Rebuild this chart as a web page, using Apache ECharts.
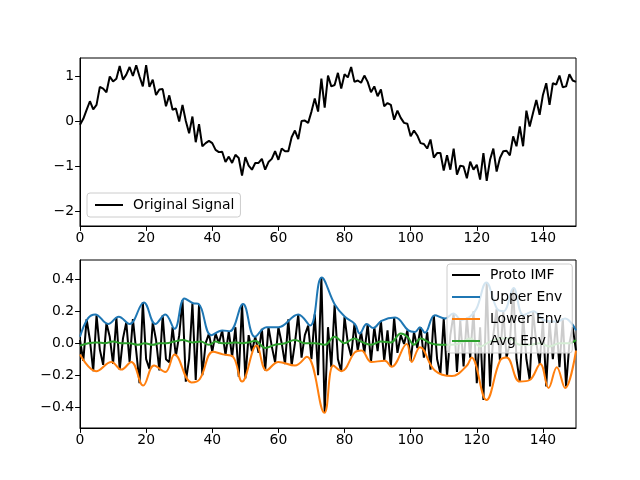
<!DOCTYPE html>
<html><head><meta charset="utf-8">
<script src="https://cdn.jsdelivr.net/npm/echarts@6/dist/echarts.min.js"></script>
<style>html,body{margin:0;padding:0;background:#fff}#c{width:640px;height:480px}</style>
</head><body><div id="c"></div>
<script>
const xTicks = [0,20,40,60,80,100,120,140];
const topYTicks = [-2,-1,0,1];
const botYTicks = [-0.4,-0.2,0,0.2,0.4];
const signal = [-0.08,0.05,0.25,0.44,0.26,0.36,0.76,0.72,0.64,0.99,0.88,0.94,1.22,0.92,1.03,1.2,1.0,1.24,0.99,0.77,
1.24,0.76,0.92,0.58,0.7,0.71,0.33,0.57,0.25,0.28,-0.01,0.36,0.0,-0.27,0.1,-0.47,-0.07,-0.56,-0.49,-0.44,
-0.49,-0.64,-0.69,-0.68,-0.91,-0.79,-0.93,-0.75,-0.82,-1.21,-0.8,-0.99,-1.08,-0.93,-0.93,-0.84,-1.08,-0.91,-0.84,-0.67,
-0.86,-0.61,-0.67,-0.67,-0.36,-0.21,-0.4,0.0,0.01,-0.04,0.21,0.5,0.21,0.94,0.3,1.01,0.77,0.8,1.07,0.72,
1.04,0.97,1.2,0.87,0.9,0.85,1.01,0.87,0.64,0.77,0.55,0.7,0.33,0.4,0.36,0.03,0.23,0.07,-0.04,-0.06,
-0.34,-0.21,-0.32,-0.49,-0.51,-0.61,-0.41,-0.81,-0.71,-0.71,-1.1,-0.76,-1.08,-0.61,-1.19,-0.99,-1.01,-1.27,-0.9,-1.08,
-0.97,-1.3,-0.71,-1.33,-0.86,-0.61,-1.12,-0.82,-0.67,-0.66,-0.76,-0.34,-0.56,-0.12,-0.56,0.23,-0.12,0.18,0.47,0.14,
0.58,0.84,0.36,0.84,0.81,1.01,0.75,0.77,1.04,0.9,0.87];
const protoIMF = [0.02,-0.11,0.15,0.02,-0.175,0.175,-0.04,-0.135,0.125,0.04,
-0.13,0.16,-0.165,0.03,0.13,-0.117,0.15,-0.05,-0.25,0.255,
-0.1,-0.16,0.13,0.02,-0.17,0.175,-0.1,-0.12,0.1,-0.08,
0.05,0.27,-0.24,-0.1,0.25,-0.23,0.24,-0.2,0.0,0.06,
-0.053,0.06,0.0,0.08,-0.075,0.075,-0.085,0.1,-0.21,0.245,
-0.22,0.05,-0.05,0.04,-0.06,0.09,-0.17,0.1,-0.02,-0.12,
0.1,0.0,-0.13,0.15,-0.14,0.0,0.18,-0.09,0.05,0.11,
-0.1,0.18,-0.2,0.41,-0.435,0.1,-0.15,0.24,-0.1,-0.175,
0.165,0.0,-0.08,0.12,-0.045,0.07,-0.06,0.12,-0.117,0.1,
-0.05,0.14,-0.11,0.08,-0.147,0.16,-0.06,0.05,-0.005,0.08,
-0.11,0.07,-0.03,0.1,-0.09,0.07,-0.165,0.175,-0.1,-0.19,
0.155,-0.205,0.05,0.185,-0.18,0.145,-0.145,0.16,-0.09,0.2,
-0.25,0.1,-0.355,0.38,-0.27,0.05,0.215,-0.11,0.2,-0.09,
0.0,0.345,-0.1,-0.24,0.175,-0.1,-0.23,0.2,0.0,-0.13,
0.145,-0.27,0.135,-0.1,0.135,-0.15,0.155,-0.27,0.0,0.1,
-0.046];
const upperEnv = [[0,0.04],[2.4,0.155],[4.6,0.18],[8.5,0.12],[11.7,0.165],[15,0.12],[19.3,0.255],[22.8,0.12],[25.8,0.18],[28.6,0.09],[31.6,0.28],[34.2,0.25],[35.9,0.245],[39.7,0.05],[43,0.08],[45.3,0.075],[49.3,0.245],[52.9,0.04],[56.4,0.10],[60,0.10],[66,0.18],[69.6,0.11],[73.1,0.41],[77.1,0.24],[80.1,0.165],[83.1,0.12],[84.6,0.06],[86.7,0.12],[88.7,0.095],[91.2,0.14],[95.3,0.16],[99.3,0.08],[101.3,0.07],[102.8,0.1],[104.3,0.065],[107.3,0.175],[110.4,0.155],[112.9,0.185],[115.4,0.145],[117.9,0.165],[119.9,0.215],[122.9,0.38],[126.1,0.215],[128.1,0.2],[131.1,0.345],[134.1,0.175],[137.1,0.2],[140.2,0.145],[144.2,0.135],[146.7,0.155],[150,0.08]];
const lowerEnv = [[0,-0.07],[4.9,-0.175],[9.5,-0.117],[12.5,-0.165],[15.5,-0.117],[19.1,-0.265],[22.4,-0.14],[25.8,-0.18],[28.6,-0.07],[33.7,-0.245],[36.2,-0.225],[40.2,-0.053],[43.2,-0.07],[46.3,-0.085],[49,-0.24],[53.4,-0.015],[56.4,-0.17],[60,-0.117],[65,-0.14],[68.6,-0.085],[73.9,-0.435],[76.6,-0.14],[79.1,-0.175],[83.1,-0.057],[85.1,-0.045],[88.1,-0.117],[92.2,-0.11],[94.2,-0.147],[98.8,-0.005],[100.3,-0.117],[102.8,-0.025],[107.3,-0.17],[112.5,-0.205],[116.9,-0.143],[118.4,-0.09],[122.9,-0.355],[127,-0.11],[129,-0.09],[133,-0.24],[136,-0.23],[139.2,-0.13],[141.7,-0.28],[144.2,-0.15],[146.7,-0.28],[150,-0.046]];
const avgEnv = [[0,-0.015],[2.5,0.0],[5,0.005],[7.5,0.0],[10,0.01],[12.5,0.0],[15,0.0],[17.5,-0.01],[19.5,0.0],[22,-0.01],[24,0.0],[26,0.0],[28.5,0.01],[31,0.02],[34,0.005],[36.5,0.01],[39,-0.01],[41,0.01],[43,0.0],[45,0.0],[47,0.005],[49,0.0],[51,0.005],[53,0.015],[56,-0.03],[59,-0.01],[62,0.0],[65,0.02],[68,0.0],[71,0.0],[74,-0.01],[77,0.04],[80,0.0],[83,0.03],[85,0.01],[88,-0.01],[91,0.01],[94,0.005],[97,0.06],[99,0.04],[101,-0.01],[103,0.03],[106,0.0],[109,-0.01],[112,-0.01],[115,0.0],[118,0.03],[121,-0.02],[124,0.01],[127,0.03],[130,0.03],[133,-0.01],[136,-0.01],[139,0.0],[142,-0.02],[145,0.0],[148,0.0],[150,0.02]];

const t = signal.map((_, i) => i);
const font = 'DejaVu Sans';
const fs = 13.9;
const lw = 2;
const fmt = v => (Math.abs(v) < 1e-9 ? '0' : String(v)).replace('-', '\u2212');
const fmt1 = v => (Math.abs(v) < 1e-9 ? '0.0' : v.toFixed(1)).replace('-', '\u2212');
const lineIcon = 'path://M0,0L28,0L28,2L0,2Z M33,0L33,2';
function xAxis(gi) {
  return {type:'value', gridIndex:gi, min:0, max:150, interval:20,
    axisLine:{show:true, onZero:false, lineStyle:{color:'#000', width:1}},
    axisTick:{show:true, length:4.9, customValues:xTicks, lineStyle:{color:'#000', width:1}},
    axisLabel:{color:'#000', fontFamily:font, fontSize:fs, margin:5, customValues:xTicks},
    splitLine:{show:false}};
}
function yAxis(gi, mn, mx, ticks, f) {
  return {type:'value', gridIndex:gi, min:mn, max:mx,
    axisLine:{show:true, onZero:false, lineStyle:{color:'#000', width:1}},
    axisTick:{show:true, length:4.9, customValues:ticks, lineStyle:{color:'#000', width:1}},
    axisLabel:{color:'#000', fontFamily:font, fontSize:fs, margin:6, customValues:ticks, formatter:f},
    splitLine:{show:false}};
}
const chart = echarts.init(document.getElementById('c'), null, {renderer:'canvas'});
chart.setOption({
  animation:false,
  backgroundColor:'#fff',
  grid:[
    {left:80, top:58, width:496, height:168, show:true, borderColor:'#000', borderWidth:1, backgroundColor:'transparent'},
    {left:80, top:260, width:496, height:168, show:true, borderColor:'#000', borderWidth:1, backgroundColor:'transparent'}
  ],
  xAxis:[xAxis(0), xAxis(1)],
  yAxis:[yAxis(0,-2.33,1.4,topYTicks,fmt), yAxis(1,-0.53,0.52,botYTicks,fmt1)],
  legend:[
    {data:['Original Signal'], left:87, top:193, orient:'vertical', icon:lineIcon, itemWidth:33, itemHeight:12, itemGap:8,
     padding:[5,6,5,8], backgroundColor:'rgba(255,255,255,0.8)', borderColor:'#cccccc', borderWidth:1, borderRadius:3,
     textStyle:{fontFamily:font, fontSize:fs, color:'#000'}},
    {data:['Proto IMF','Upper Env','Lower Env','Avg Env'], left:447, top:264, orient:'vertical', icon:lineIcon, itemWidth:33, itemHeight:12, itemGap:8,
     padding:[4,10,5,5], backgroundColor:'rgba(255,255,255,0.8)', borderColor:'#cccccc', borderWidth:1, borderRadius:3,
     textStyle:{fontFamily:font, fontSize:fs, color:'#000'}}
  ],
  series:[
    {name:'Original Signal', type:'line', xAxisIndex:0, yAxisIndex:0, symbol:'none',
     data:t.map((x,i)=>[x, signal[i]]), lineStyle:{color:'#000', width:lw}, itemStyle:{color:'#000'}},
    {name:'Proto IMF', type:'line', xAxisIndex:1, yAxisIndex:1, symbol:'none',
     data:t.map((x,i)=>[x, protoIMF[i]]), lineStyle:{color:'#000', width:lw}, itemStyle:{color:'#000'}},
    {name:'Upper Env', type:'line', xAxisIndex:1, yAxisIndex:1, symbol:'none', smooth:0.4,
     data:upperEnv, lineStyle:{color:'#1f77b4', width:lw}, itemStyle:{color:'#1f77b4'}},
    {name:'Lower Env', type:'line', xAxisIndex:1, yAxisIndex:1, symbol:'none', smooth:0.4,
     data:lowerEnv, lineStyle:{color:'#ff7f0e', width:lw}, itemStyle:{color:'#ff7f0e'}},
    {name:'Avg Env', type:'line', xAxisIndex:1, yAxisIndex:1, symbol:'none', smooth:0.4,
     data:avgEnv, lineStyle:{color:'#2ca02c', width:lw}, itemStyle:{color:'#2ca02c'}}
  ]
});
</script></body></html>
